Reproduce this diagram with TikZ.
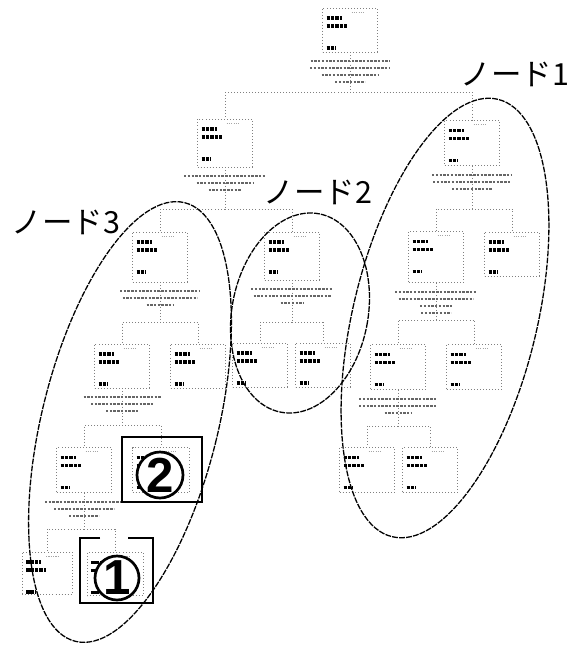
\documentclass[tikz,border=0pt]{standalone}
\usepackage{fontspec}
\setsansfont{Liberation Sans}
\newfontfamily\jpfont{Noto Sans CJK JP}
\usetikzlibrary{calc,positioning}
\tikzset{
    glyph/.style={line width=2.8pt, black, dash pattern=on 3pt off 0.8pt},
    faint/.style={line width=0.5pt, black!35, dash pattern=on 1pt off 1pt},
    capline/.style={line width=1.8pt, black!60, dash pattern=on 2pt off 1.2pt},
    tbox/.style={draw=black!50, dotted, line width=0.6pt, fill=white, inner sep=0pt,
        minimum width=55*0.03cm, minimum height=45*0.03cm,
        path picture={
            \draw[glyph] ($(path picture bounding box.north west)+(4,10)$) -- ++(15,0);
            \draw[glyph] ($(path picture bounding box.north west)+(4,18)$) -- ++(20,0);
            \fill ($(path picture bounding box.north west)+(5,26)$) circle (0.8pt);
            \fill ($(path picture bounding box.north west)+(5,33)$) circle (0.9pt);
            \draw[glyph] ($(path picture bounding box.north west)+(4,40)$) -- ++(9,0);
            \draw[faint] ($(path picture bounding box.north east)+(-26,4)$) -- ++(14,0);
        }},
    conn/.style={draw=black!50, dotted, line width=0.6pt},
    oval/.style={draw=black, line width=1.1pt, dash pattern=on 5pt off 1pt},
    frame/.style={draw=black, line width=1.5pt},
    numcirc/.style={circle, draw, line width=2.3pt, fill=white, inner sep=0pt,
        minimum size=46*0.03cm, font=\sffamily\bfseries\fontsize{42}{42}\selectfont},
    lbl/.style={inner sep=0pt, font=\jpfont\fontsize{26}{26}\selectfont},
}
% caption lines under a box: node, list of widths
\newcommand{\caplines}[2]{%
    \foreach \w [count=\i] in {#2}
        \draw[capline] ($(#1.south)+(-\w/2,\i*7+2)$) -- ++(\w,0);}
\begin{document}
\begin{tikzpicture}[x=0.03cm, y=-0.03cm]
    \useasboundingbox[fill=white] (0,0) rectangle (569,646);

    % boxes of the tree
    \node[tbox, minimum height=44*0.03cm] (R) at (350,30) {};
    \node[tbox, minimum height=48*0.03cm] (A) at (225,143) {};
    \node[tbox] (B) at (472,143) {};
    \node[tbox, minimum height=50*0.03cm] (A1) at (160,257) {};
    \node[tbox, minimum height=48*0.03cm] (A2) at (292,256) {};
    \node[tbox, minimum height=51*0.03cm] (B1) at (436,257) {};
    \node[tbox, minimum height=44*0.03cm] (B2) at (512,254) {};
    \node[tbox, minimum height=44*0.03cm] (A11) at (122,366) {};
    \node[tbox, minimum height=44*0.03cm] (A12) at (198,366) {};
    \node[tbox, minimum height=44*0.03cm] (A21) at (260,365) {};
    \node[tbox, minimum height=44*0.03cm] (A22) at (323,365) {};
    \node[tbox] (B11) at (398,367) {};
    \node[tbox] (B12) at (474,367) {};
    \node[tbox] (A111) at (84,470) {};
    \node[tbox, minimum width=57*0.03cm] (A112) at (161,470) {};
    \node[tbox] (B111) at (367,470) {};
    \node[tbox] (B112) at (430,470) {};
    \node[tbox, minimum width=50*0.03cm, minimum height=42*0.03cm] (A1111) at (47,573) {};
    \node[tbox, minimum width=56*0.03cm, minimum height=43*0.03cm] (A1112) at (115,574) {};

    % connectors
    \draw[conn] (R.south) -- ++(0,40) coordinate (Rj) -| (A.north);
    \draw[conn] (Rj) -| (B.north);
    \draw[conn] (A.south) -- ++(0,42) coordinate (Aj) -| (A1.north);
    \draw[conn] (Aj) -| (A2.north);
    \draw[conn] (B.south) -- ++(0,43) coordinate (Bj) -| (B1.north);
    \draw[conn] (Bj) -| (B2.north);
    \draw[conn] (A1.south) -- ++(0,40) coordinate (A1j) -| (A11.north);
    \draw[conn] (A1j) -| (A12.north);
    \draw[conn] (A2.south) -- ++(0,42) coordinate (A2j) -| (A21.north);
    \draw[conn] (A2j) -| (A22.north);
    \draw[conn] (B1.south) -- ++(0,37) coordinate (B1j) -| (B11.north);
    \draw[conn] (B1j) -| (B12.north);
    \draw[conn] (A11.south) -- ++(0,37) coordinate (A11j) -| (A111.north);
    \draw[conn] (A11j) -| (A112.north);
    \draw[conn] (B11.south) -- ++(0,36) coordinate (B11j) -| (B111.north);
    \draw[conn] (B11j) -| (B112.north);
    \draw[conn] (A111.south) -- ++(0,36) coordinate (A111j) -| (A1111.north);
    \draw[conn] (A111j) -| (A1112.north);

    % captions under the boxes
    \caplines{R}{79,80,57,30}
    \caplines{A}{82,57,33}
    \caplines{B}{80,78,40}
    \caplines{A1}{80,75,27}
    \caplines{A2}{82,77,23}
    \caplines{B1}{82,75,32,30}
    \caplines{A11}{77,62,32}
    \caplines{B11}{78,78,27}
    \caplines{A111}{78,60,30}

    % marked leaves
    \draw[frame] (122,437) rectangle (202,502);
    \node[numcirc] (c2) at (160,475) {2};
    \draw[frame] (100,538) -- (80,538) -- (80,603) -- (153,603) -- (153,538) -- (128,538);
    \node[numcirc, minimum size=44*0.03cm] (c1) at (117,578) {1};

    % groups
    \draw[oval, rotate around={-13.6:(445,318)}] (445,318) ellipse [x radius=2.76cm, y radius=6.75cm];
    \draw[oval, rotate around={-11:(300,313)}] (300,313) ellipse [x radius=2.04cm, y radius=3.03cm];
    \draw[oval, rotate around={-14:(130,422)}] (130,422) ellipse [x radius=2.64cm, y radius=6.78cm];

    \node[lbl] (n1) at (515,74) {ノード1};
    \node[lbl] (n2) at (318,192) {ノード2};
    \node[lbl] (n3) at (66,222) {ノード3};
\end{tikzpicture}
\end{document}
